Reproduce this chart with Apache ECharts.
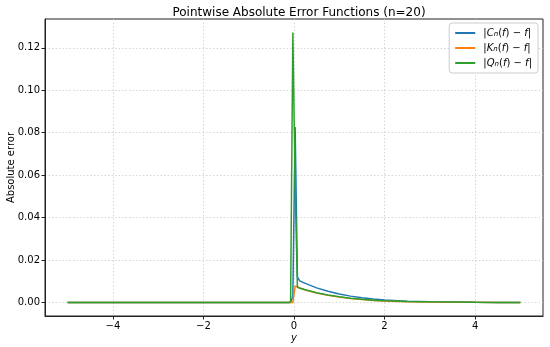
<!DOCTYPE html>
<html>
<head>
<meta charset="utf-8">
<script src="https://cdn.jsdelivr.net/npm/echarts@6/dist/echarts.min.js"></script>
<style>
  html, body { margin: 0; padding: 0; background: #fff; }
  #chart { width: 550px; height: 347px; }
</style>
</head>
<body>
<div id="chart"></div>
<script>
var chart = echarts.init(document.getElementById('chart'));

// sample points (y) and the three error curves
var yPoints = [-5, -0.1256, -0.0754, -0.0251, 0.0251, 0.0754, 0.1256, 0.25, 0.5, 0.75, 1, 1.25, 1.5, 1.75, 2, 2.5, 3, 3.5, 4, 4.5, 5];
var errC = [0, 0, 0, 0.003, 0.0827, 0.012, 0.0102, 0.0090, 0.0069, 0.0053, 0.0040, 0.0030, 0.0022, 0.0016, 0.0012, 0.0006, 0.0003, 0.0002, 0.0001, 0.00005, 0.00003];
var errK = [0, 0, 0, 0, 0.0076, 0.0075, 0.0067, 0.0059, 0.0045, 0.0034, 0.0026, 0.0019, 0.0014, 0.0010, 0.0007, 0.0004, 0.0002, 0.0001, 0.0001, 0, 0];
var errQ = [0, 0, 0.0003, 0.1272, 0.055, 0.0072, 0.0068, 0.0060, 0.0046, 0.0035, 0.0027, 0.0020, 0.0015, 0.0011, 0.0008, 0.0005, 0.0003, 0.0002, 0.0001, 0.00005, 0.00003];

var xTicks = [-4, -2, 0, 2, 4];
var yTicks = [0, 0.02, 0.04, 0.06, 0.08, 0.10, 0.12];

var seriesNames = ['C', 'K', 'Q'];
var colors = ['#1f77b4', '#ff7f0e', '#2ca02c'];

function pairs(vals) {
    return yPoints.map(function (x, i) { return [x, vals[i]]; });
}

var font = 'DejaVu Sans';

option = {
    animation: false,
    color: colors,
    title: {
        text: 'Pointwise Absolute Error Functions (n=20)',
        left: 294,
        textAlign: 'center',
        top: 2,
        textStyle: { fontFamily: font, fontSize: 12, fontWeight: 'normal', color: '#000' }
    },
    legend: {
        orient: 'vertical',
        right: 12,
        top: 23,
        data: seriesNames,
        icon: 'rect',
        itemWidth: 20,
        itemHeight: 2,
        itemGap: 5,
        padding: [5, 6, 5, 6],
        backgroundColor: '#fff',
        borderColor: '#cccccc',
        borderWidth: 1,
        borderRadius: 3,
        formatter: function (name) {
            return '{n|\u00a0|}{i|' + name + '}{s|n}{n|(}{i|f}{n|) \u2212 }{i|f}{n||}';
        },
        textStyle: {
            fontFamily: font,
            fontSize: 10,
            color: '#000',
            rich: {
                n: { fontFamily: font, fontSize: 10, color: '#000' },
                i: { fontFamily: font, fontSize: 10, fontStyle: 'italic', color: '#000' },
                s: { fontFamily: font, fontSize: 7, fontStyle: 'italic', color: '#000', verticalAlign: 'bottom', lineHeight: 7 }
            }
        }
    },
    grid: {
        left: 45,
        right: 7,
        top: 19,
        bottom: 31,
        show: true,
        borderColor: '#222',
        borderWidth: 1,
        containLabel: false,
        outerBoundsMode: 'none'
    },
    xAxis: {
        type: 'value',
        min: -5.5,
        max: 5.5,
        name: 'y',
        nameLocation: 'middle',
        nameGap: 17,
        nameMoveOverlap: false,
        nameTextStyle: { fontFamily: font, fontSize: 10, fontStyle: 'italic', color: '#000' },
        axisLine: { show: true, onZero: false, lineStyle: { color: '#222' } },
        axisTick: { show: true, length: 3.5, customValues: xTicks, lineStyle: { color: '#222' } },
        axisLabel: {
            customValues: xTicks,
            fontFamily: font, fontSize: 10, color: '#000', margin: 5,
            formatter: function (v) { return v < 0 ? '\u2212' + Math.abs(v) : String(v); }
        },
        splitLine: { show: true, customValues: xTicks, lineStyle: { color: '#cccccc', type: [1.5, 2], width: 0.8 } }
    },
    yAxis: {
        type: 'value',
        min: -0.00636,
        max: 0.13356,
        name: 'Absolute error',
        nameLocation: 'middle',
        nameGap: 29,
        nameMoveOverlap: false,
        nameTextStyle: { fontFamily: font, fontSize: 10, color: '#000' },
        axisLine: { show: true, onZero: false, lineStyle: { color: '#222' } },
        axisTick: { show: true, length: 3.5, customValues: yTicks, lineStyle: { color: '#222' } },
        axisLabel: {
            customValues: yTicks,
            fontFamily: font, fontSize: 10, color: '#000', margin: 5,
            formatter: function (v) { return v.toFixed(2); }
        },
        splitLine: { show: true, customValues: yTicks, lineStyle: { color: '#cccccc', type: [1.5, 2], width: 0.8 } }
    },
    series: [
        { name: 'C', type: 'line', data: pairs(errC), showSymbol: false, lineStyle: { width: 1.5 }, z: 2 },
        { name: 'K', type: 'line', data: pairs(errK), showSymbol: false, lineStyle: { width: 1.5 }, z: 3 },
        { name: 'Q', type: 'line', data: pairs(errQ), showSymbol: false, lineStyle: { width: 1.5 }, z: 4 }
    ]
};

chart.setOption(option);
</script>
</body>
</html>
